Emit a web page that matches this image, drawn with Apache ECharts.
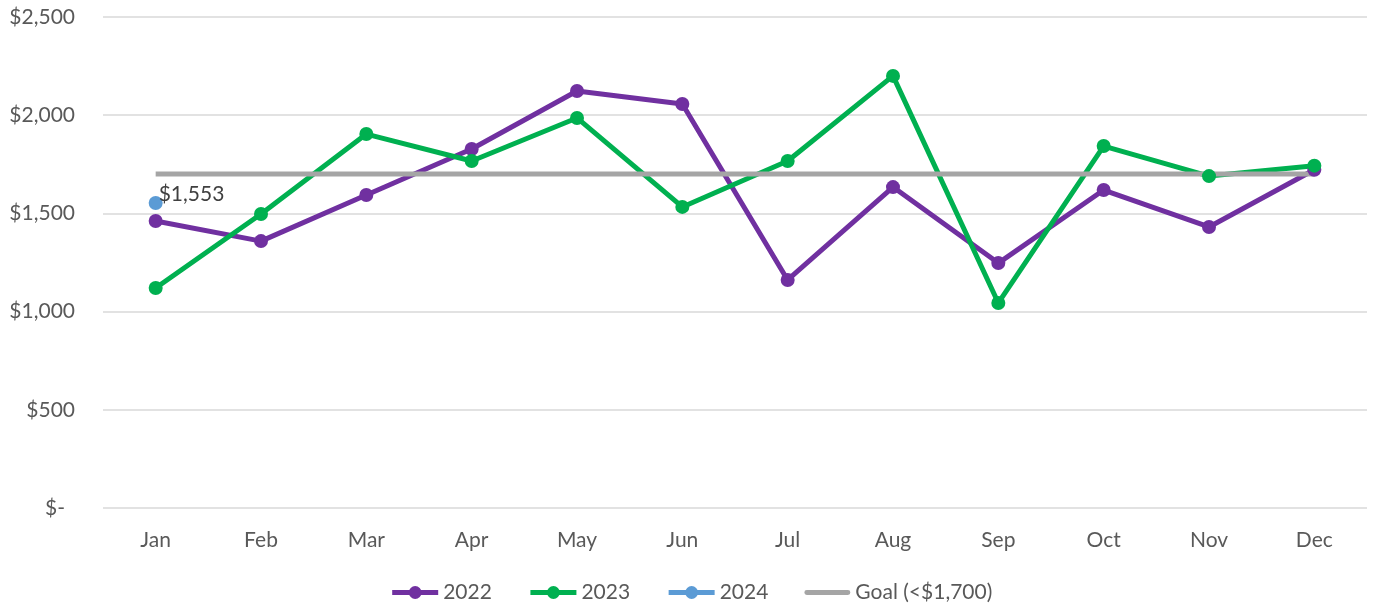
<!DOCTYPE html>
<html>
<head>
<meta charset="utf-8">
<script src="https://cdn.jsdelivr.net/npm/echarts@6/dist/echarts.min.js"></script>
<style>
  html, body { margin: 0; padding: 0; background: #fff; }
  #chart { width: 1382px; height: 610px; }
</style>
</head>
<body>
<div id="chart"></div>
<script>
var months = ['Jan', 'Feb', 'Mar', 'Apr', 'May', 'Jun', 'Jul', 'Aug', 'Sep', 'Oct', 'Nov', 'Dec'];
var y2022 = [1461, 1359, 1594, 1828, 2123, 2057, 1161, 1634, 1247, 1619, 1431, 1722];
var y2023 = [1120, 1497, 1904, 1767, 1986, 1533, 1767, 2200, 1044, 1843, 1690, 1743];
var y2024 = [1553, null, null, null, null, null, null, null, null, null, null, null];
var goal = [1700, 1700, 1700, 1700, 1700, 1700, 1700, 1700, 1700, 1700, 1700, 1700];

var chart = echarts.init(document.getElementById('chart'));
var font = 'Lato';
var fs = 21;

function money(v) {
    if (v === 0) return '{z|$-}';
    return '$' + v.toLocaleString('en-US');
}

function lineSeries(name, data, color) {
    return {
        name: name,
        type: 'line',
        data: data,
        symbol: 'circle',
        symbolSize: 14,
        lineStyle: { width: 5, color: color },
        itemStyle: { color: color },
        emphasis: { disabled: true }
    };
}

var s2024 = lineSeries('2024', y2024, '#5B9BD5');
s2024.label = {
    show: true,
    position: 'right',
    offset: [-6, -9],
    distance: 2,
    color: '#404040',
    fontFamily: font,
    fontSize: fs,
    formatter: function(p) { return money(p.value); }
};

var option = {
    animation: false,
    grid: { left: 103, right: 15, top: 17, bottom: 102 },
    legend: {
        bottom: 2,
        left: 'center',
        itemWidth: 46,
        itemHeight: 16,
        itemGap: 36,
        lineStyle: { width: 5 },
        textStyle: { color: '#595959', fontFamily: font, fontSize: fs },
        data: ['2022', '2023', '2024', { name: 'Goal (<$1,700)', icon: 'path://M2,0H44A2,2 0 0 1 44,5H2A2,2 0 0 1 2,0Z' }]
    },
    xAxis: {
        type: 'category',
        data: months,
        boundaryGap: true,
        axisLine: { show: false },
        axisTick: { show: false },
        axisLabel: { color: '#595959', fontFamily: font, fontSize: fs, margin: 22 }
    },
    yAxis: {
        type: 'value',
        min: 0,
        max: 2500,
        interval: 500,
        axisLine: { show: false },
        axisTick: { show: false },
        splitLine: { lineStyle: { color: '#D9D9D9', width: 1.5 } },
        axisLabel: {
            color: '#595959',
            fontFamily: font,
            fontSize: fs,
            margin: 28,
            formatter: money,
            rich: { z: { color: '#595959', fontFamily: font, fontSize: fs, padding: [0, 10, 0, 0] } }
        }
    },
    series: [
        lineSeries('2022', y2022, '#7030A0'),
        lineSeries('2023', y2023, '#00B050'),
        s2024,
        {
            name: 'Goal (<$1,700)',
            type: 'line',
            data: goal,
            symbol: 'none',
            lineStyle: { width: 5, color: '#A5A5A5' },
            itemStyle: { color: '#A5A5A5' },
            emphasis: { disabled: true }
        }
    ]
};

chart.setOption(option);
</script>
</body>
</html>
